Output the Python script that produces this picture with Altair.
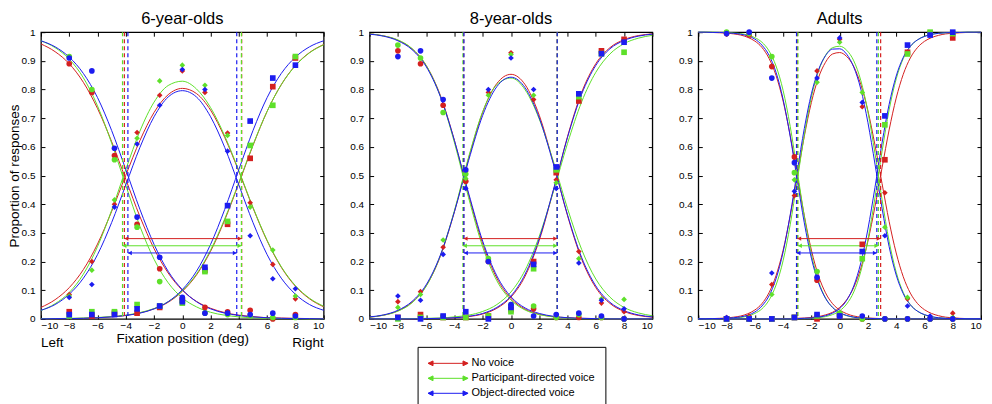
import pandas as pd
import altair as alt

FONT = "Liberation Sans"
PANELS = ["6-year-olds", "8-year-olds", "Adults"]
CONDS = ["No voice", "Participant-directed voice", "Object-directed voice"]
COLORS = ["#d42020", "#5ee02a", "#1c1cf0"]
RESP = ["L", "C", "R"]
SHAPES = ["circle", "diamond", "square"]
DATA_X = [-8, -6.4, -4.8, -3.2, -1.6, 0, 1.6, 3.2, 4.8, 6.4, 8]
XTICKS = list(range(-10, 11, 2))
YTICKS = [0, 0.1, 0.2, 0.3, 0.4, 0.5, 0.6, 0.7, 0.8, 0.9, 1]

# observed proportions: (panel, condition, response) -> values at DATA_X
OBS = {
    (0, 0, "L"): [0.89, 0.79, 0.57, 0.33, 0.175, 0.07, 0.04, 0.025, 0.03, 0.0, 0.015],
    (0, 0, "C"): [0.085, 0.20, 0.40, 0.65, 0.78, 0.865, 0.79, 0.648, 0.405, 0.19, 0.07],
    (0, 0, "R"): [0.025, 0.01, 0.02, 0.02, 0.04, 0.065, 0.17, 0.33, 0.56, 0.81, 0.91],
    (0, 1, "L"): [0.915, 0.80, 0.555, 0.32, 0.13, 0.06, 0.02, 0.015, 0.01, 0.005, 0.005],
    (0, 1, "C"): [0.08, 0.17, 0.415, 0.63, 0.83, 0.885, 0.815, 0.64, 0.39, 0.24, 0.08],
    (0, 1, "R"): [0.01, 0.025, 0.025, 0.05, 0.045, 0.055, 0.165, 0.34, 0.605, 0.745, 0.915],
    (0, 2, "L"): [0.91, 0.865, 0.595, 0.355, 0.215, 0.075, 0.02, 0.02, 0.015, 0.02, 0.01],
    (0, 2, "C"): [0.075, 0.12, 0.39, 0.61, 0.745, 0.87, 0.80, 0.585, 0.29, 0.14, 0.105],
    (0, 2, "R"): [0.015, 0.015, 0.015, 0.035, 0.045, 0.06, 0.18, 0.395, 0.69, 0.84, 0.885],
    (1, 0, "L"): [0.935, 0.89, 0.745, 0.48, 0.20, 0.04, 0.035, 0.005, 0.005, 0.005, 0.0],
    (1, 0, "C"): [0.06, 0.095, 0.25, 0.515, 0.79, 0.928, 0.765, 0.485, 0.235, 0.055, 0.025],
    (1, 0, "R"): [0.005, 0.015, 0.005, 0.005, 0.01, 0.032, 0.20, 0.51, 0.76, 0.935, 0.975],
    (1, 1, "L"): [0.955, 0.91, 0.72, 0.505, 0.21, 0.05, 0.045, 0.005, 0.015, 0.005, 0.0],
    (1, 1, "C"): [0.04, 0.085, 0.275, 0.49, 0.78, 0.922, 0.78, 0.475, 0.21, 0.07, 0.068],
    (1, 1, "R"): [0.0, 0.005, 0.005, 0.005, 0.01, 0.025, 0.175, 0.52, 0.775, 0.925, 0.93],
    (1, 2, "L"): [0.915, 0.935, 0.765, 0.52, 0.20, 0.05, 0.01, 0.015, 0.02, 0.01, 0.0],
    (1, 2, "C"): [0.08, 0.065, 0.225, 0.455, 0.80, 0.91, 0.80, 0.455, 0.195, 0.065, 0.035],
    (1, 2, "R"): [0.005, 0.0, 0.01, 0.025, 0.0, 0.04, 0.19, 0.53, 0.785, 0.925, 0.965],
    (2, 0, "L"): [0.995, 0.99, 0.88, 0.565, 0.135, 0.015, 0.0, 0.0, 0.0, 0.0, 0.0],
    (2, 0, "C"): [0.005, 0.01, 0.12, 0.43, 0.865, 0.975, 0.74, 0.44, 0.07, 0.005, 0.02],
    (2, 0, "R"): [0.0, 0.0, 0.0, 0.005, 0.0, 0.01, 0.26, 0.555, 0.93, 0.995, 0.98],
    (2, 1, "L"): [1.0, 0.995, 0.915, 0.51, 0.165, 0.02, 0.0, 0.0, 0.0, 0.0, 0.0],
    (2, 1, "C"): [0.0, 0.005, 0.085, 0.485, 0.825, 0.965, 0.79, 0.32, 0.075, 0.0, 0.005],
    (2, 1, "R"): [0.0, 0.0, 0.0, 0.005, 0.01, 0.015, 0.21, 0.677, 0.924, 1.0, 0.995],
    (2, 2, "L"): [0.995, 1.0, 0.84, 0.545, 0.145, 0.01, 0.01, 0.0, 0.0, 0.0, 0.0],
    (2, 2, "C"): [0.005, 0.0, 0.16, 0.445, 0.84, 0.98, 0.755, 0.29, 0.045, 0.01, 0.0],
    (2, 2, "R"): [0.0, 0.0, 0.0, 0.005, 0.015, 0.01, 0.235, 0.708, 0.955, 0.99, 1.0],
}

# fitted curves (per mille)
CURVE_X_CHILD = [-10, -9, -8, -7, -6, -5, -4, -3, -2, -1, 0, 1, 2, 3, 4, 5, 6, 7, 8, 9, 10]
CURVE_X_ADULT = [-10, -9.5, -9, -8.5, -8, -7.5, -7, -6.5, -6, -5.5, -5, -4.5, -4, -3.5, -3,
                 -2.5, -2, -1.5, -1, -0.5, 0, 0.5, 1, 1.5, 2, 2.5, 3, 3.5, 4, 4.5, 5, 5.5,
                 6, 6.5, 7, 7.5, 8, 8.5, 9, 9.5, 10]
CURVES = {
    (0, 0, "L"): [959, 932, 890, 825, 734, 618, 487, 357, 245, 160, 100, 61, 37, 22, 13, 8, 4, 3, 2, 1, 1],
    (0, 0, "C"): [40, 67, 109, 172, 261, 375, 501, 622, 720, 782, 804, 786, 728, 633, 514, 387, 272, 180, 114, 70, 42],
    (0, 0, "R"): [1, 1, 1, 2, 4, 7, 12, 21, 35, 58, 96, 153, 236, 345, 473, 605, 724, 817, 884, 929, 957],
    (0, 1, "L"): [970, 946, 906, 841, 743, 613, 466, 323, 208, 126, 73, 42, 23, 13, 7, 4, 2, 1, 1, 0, 0],
    (0, 1, "C"): [29, 53, 92, 156, 252, 379, 521, 655, 756, 814, 829, 802, 737, 638, 517, 389, 274, 182, 116, 72, 44],
    (0, 1, "R"): [1, 1, 2, 3, 5, 8, 13, 22, 36, 60, 98, 156, 240, 349, 476, 607, 724, 817, 883, 928, 956],
    (0, 2, "L"): [970, 949, 913, 856, 772, 657, 521, 382, 260, 166, 102, 60, 35, 20, 12, 7, 4, 2, 1, 1, 0],
    (0, 2, "C"): [30, 50, 86, 142, 224, 336, 467, 598, 705, 774, 796, 774, 705, 598, 467, 336, 224, 142, 86, 50, 30],
    (0, 2, "R"): [0, 1, 1, 2, 4, 7, 12, 20, 35, 60, 102, 166, 260, 382, 521, 657, 772, 856, 913, 949, 970],
    (1, 0, "L"): [994, 987, 972, 942, 884, 780, 622, 433, 262, 142, 71, 34, 16, 8, 4, 2, 1, 0, 0, 0, 0],
    (1, 0, "C"): [6, 13, 28, 58, 115, 218, 374, 559, 721, 821, 853, 817, 710, 544, 360, 208, 109, 54, 26, 12, 6],
    (1, 0, "R"): [0, 0, 0, 0, 1, 2, 4, 8, 17, 37, 76, 149, 274, 448, 636, 790, 890, 946, 974, 988, 994],
    (1, 1, "L"): [994, 987, 973, 943, 884, 777, 615, 423, 251, 133, 66, 31, 15, 7, 3, 1, 1, 0, 0, 0, 0],
    (1, 1, "C"): [6, 13, 27, 56, 114, 220, 378, 564, 723, 817, 840, 799, 697, 549, 385, 242, 139, 76, 40, 21, 11],
    (1, 1, "R"): [0, 0, 0, 1, 2, 3, 7, 13, 26, 50, 94, 170, 288, 444, 612, 757, 860, 924, 960, 979, 989],
    (1, 2, "L"): [993, 986, 970, 939, 880, 776, 622, 439, 271, 150, 77, 38, 19, 9, 4, 2, 1, 0, 0, 0, 0],
    (1, 2, "C"): [7, 14, 30, 61, 119, 222, 374, 552, 710, 810, 843, 806, 701, 541, 363, 214, 115, 58, 29, 14, 7],
    (1, 2, "R"): [0, 0, 0, 0, 1, 2, 4, 9, 19, 40, 80, 156, 280, 450, 633, 784, 884, 942, 971, 986, 993],
    (2, 0, "L"): [999, 999, 999, 998, 997, 994, 990, 982, 969, 947, 909, 849, 760, 640, 500, 360, 240,
                  151, 91, 53, 31, 18, 10, 6, 3, 2, 1, 1, 0, 0, 0, 0, 0, 0, 0, 0, 0, 0, 0, 0, 0],
    (2, 0, "C"): [1, 1, 1, 2, 3, 6, 10, 18, 31, 53, 91, 151, 239, 359, 498, 637, 755, 841, 895, 924,
                  929, 915, 880, 817, 726, 606, 472, 340, 230, 147, 90, 54, 32, 19, 11, 6, 4, 2, 1, 1, 0],
    (2, 0, "R"): [0, 0, 0, 0, 0, 0, 0, 0, 0, 0, 0, 0, 1, 1, 2, 3, 5, 8, 14, 23, 40, 67, 110, 177, 271,
                  392, 527, 659, 770, 853, 910, 946, 968, 981, 989, 994, 996, 998, 999, 999, 1000],
    (2, 1, "L"): [1000, 1000, 1000, 999, 999, 997, 995, 990, 981, 965, 935, 882, 797, 672, 516, 358,
                  225, 132, 73, 40, 21, 11, 6, 3, 2, 1, 0, 0, 0, 0, 0, 0, 0, 0, 0, 0, 0, 0, 0, 0, 0],
    (2, 1, "C"): [0, 0, 0, 1, 1, 3, 5, 10, 19, 35, 65, 118, 203, 328, 483, 641, 773, 864, 919, 946,
                  951, 937, 900, 831, 722, 577, 416, 271, 163, 92, 50, 27, 14, 7, 4, 2, 1, 1, 0, 0, 0],
    (2, 1, "R"): [0, 0, 0, 0, 0, 0, 0, 0, 0, 0, 0, 0, 0, 0, 1, 1, 2, 4, 8, 15, 28, 52, 94, 166, 276,
                  423, 584, 729, 837, 908, 950, 973, 986, 993, 996, 998, 999, 999, 1000, 1000, 1000],
    (2, 2, "L"): [1000, 1000, 999, 999, 998, 996, 993, 987, 976, 955, 920, 860, 766, 637, 484, 335,
                  212, 126, 72, 40, 22, 12, 6, 3, 2, 1, 1, 0, 0, 0, 0, 0, 0, 0, 0, 0, 0, 0, 0, 0, 0],
    (2, 2, "C"): [0, 0, 1, 1, 2, 4, 7, 13, 24, 45, 80, 140, 233, 362, 515, 664, 785, 868, 918, 941,
                  942, 923, 878, 801, 685, 540, 386, 252, 153, 88, 49, 27, 15, 8, 4, 2, 1, 1, 0, 0, 0],
    (2, 2, "R"): [0, 0, 0, 0, 0, 0, 0, 0, 0, 0, 0, 0, 0, 0, 1, 2, 3, 6, 11, 20, 36, 65, 115, 196, 313,
                  459, 614, 748, 847, 912, 951, 973, 985, 992, 996, 998, 999, 999, 1000, 1000, 1000],
}

# category boundaries (dashed lines) and arrow heights
TL = [[-4.1, -4.23, -3.85], [-3.35, -3.4, -3.33], [-3.0, -2.95, -3.05]]
TR = [[4.2, 4.18, 3.85], [3.27, 3.27, 3.27], [2.9, 2.74, 2.63]]
ARROW_Y = [0.28, 0.255, 0.23]

# legend symbol: a double-headed arrow, 40 px long, starting at the entry's left edge
LEG_PATH = "M-1,0L5.67,0M-1,0L-0.17,-0.4L-0.17,0.4ZM5.67,0L4.83,-0.4L4.83,0.4Z"


def panel(pi):
    first = pi == 0
    xs = alt.Scale(domain=[-10, 10], nice=False, zero=False)
    ys = alt.Scale(domain=[0, 1], nice=False, zero=False)
    cs = alt.Scale(domain=CONDS, range=COLORS)
    cx = CURVE_X_ADULT if pi == 2 else CURVE_X_CHILD

    crow, prow, drow, arow = [], [], [], []
    for ci, c in enumerate(CONDS):
        for r in RESP:
            for x, v in zip(cx, CURVES[(pi, ci, r)]):
                crow.append({"cond": c, "resp": r, "x": x, "p": v / 1000})
            for x, v in zip(DATA_X, OBS[(pi, ci, r)]):
                prow.append({"cond": c, "resp": r, "x": x, "p": v})
        drow.append({"cond": c, "t": TL[pi][ci]})
        drow.append({"cond": c, "t": TR[pi][ci]})
        arow.append({"cond": c, "t1": TL[pi][ci], "t2": TR[pi][ci], "ay": ARROW_Y[ci]})
    cdf, pdf, ddf, adf = map(pd.DataFrame, (crow, prow, drow, arow))

    xb = alt.Axis(orient="bottom", values=XTICKS, offset=-4, domain=False, tickSize=4,
                  tickColor="black", labelPadding=2, labelFontSize=10, labelFont=FONT,
                  labelColor="black", grid=False,
                  title="Fixation position (deg)" if first else None,
                  titleFont=FONT, titleFontSize=13.5, titleFontWeight="normal",
                  titleColor="black", titlePadding=1)
    yl = alt.Axis(orient="left", values=YTICKS, format=".1~f", offset=-4, domain=False,
                  tickSize=4, tickColor="black", labelPadding=6, labelFontSize=10,
                  labelFont=FONT, labelColor="black", grid=False,
                  title="Proportion of responses" if first else None,
                  titleFont=FONT, titleFontSize=13.5, titleFontWeight="normal",
                  titleColor="black", titlePadding=0)
    xt = alt.Axis(orient="top", values=XTICKS, offset=-4, domain=False, tickSize=4,
                  tickColor="black", labels=False, grid=False, title=None)
    yr = alt.Axis(orient="right", values=YTICKS, offset=-4, domain=False, tickSize=4,
                  tickColor="black", labels=False, grid=False, title=None)

    if pi == 1:
        leg = alt.Legend(orient="none", legendX=48, legendY=315, title=None,
                         symbolType=LEG_PATH, symbolSize=144, symbolStrokeWidth=1,
                         labelFont=FONT, labelFontSize=11, labelColor="black",
                         strokeColor="black", fillColor="white", padding=10,
                         rowPadding=3, labelOffset=31)
    else:
        leg = None

    curves = alt.Chart(cdf).mark_line(strokeWidth=1, interpolate="monotone").encode(
        x=alt.X("x:Q", scale=xs, axis=xb),
        y=alt.Y("p:Q", scale=ys, axis=yl),
        color=alt.Color("cond:N", scale=cs, legend=leg),
        detail="resp:N",
    )
    dashed = alt.Chart(ddf).mark_rule(strokeDash=[4, 3], strokeWidth=1.2).encode(
        x=alt.X("t:Q", scale=xs, axis=None),
        color=alt.Color("cond:N", scale=cs, legend=None),
    )
    arrows = alt.Chart(adf).mark_rule(strokeWidth=1).encode(
        x=alt.X("t1:Q", scale=xs, axis=xt), x2="t2:Q",
        y=alt.Y("ay:Q", scale=ys, axis=yr),
        color=alt.Color("cond:N", scale=cs, legend=None),
    )
    head_l = alt.Chart(adf).mark_point(shape="triangle-left", filled=True, size=20,
                                       opacity=1, xOffset=2).encode(
        x=alt.X("t1:Q", scale=xs, axis=None), y=alt.Y("ay:Q", scale=ys, axis=None),
        color=alt.Color("cond:N", scale=cs, legend=None),
    )
    head_r = alt.Chart(adf).mark_point(shape="triangle-right", filled=True, size=20,
                                       opacity=1, xOffset=-2).encode(
        x=alt.X("t2:Q", scale=xs, axis=None), y=alt.Y("ay:Q", scale=ys, axis=None),
        color=alt.Color("cond:N", scale=cs, legend=None),
    )
    points = alt.Chart(pdf).mark_point(filled=True, size=32, opacity=1).encode(
        x=alt.X("x:Q", scale=xs, axis=None),
        y=alt.Y("p:Q", scale=ys, axis=None),
        color=alt.Color("cond:N", scale=cs, legend=None),
        shape=alt.Shape("resp:N", scale=alt.Scale(domain=RESP, range=SHAPES), legend=None),
    )
    layers = [curves, dashed, arrows, head_l, head_r, points]
    if first:
        lr = pd.DataFrame({"lx": [-10, 10], "ly": [0, 0], "lab": ["Left", "Right"]})
        left = alt.Chart(lr.iloc[[0]]).mark_text(align="left", baseline="middle", dy=24,
                                                  fontSize=13.5, font=FONT, color="black").encode(
            x=alt.X("lx:Q", scale=xs, axis=None), y=alt.Y("ly:Q", scale=ys, axis=None),
            text="lab:N")
        right = alt.Chart(lr.iloc[[1]]).mark_text(align="right", baseline="middle", dy=24,
                                                   fontSize=13.5, font=FONT, color="black").encode(
            x=alt.X("lx:Q", scale=xs, axis=None), y=alt.Y("ly:Q", scale=ys, axis=None),
            text="lab:N")
        layers += [left, right]
    return alt.layer(*layers).resolve_axis(x="independent", y="independent").properties(
        width=283, height=287,
        title=alt.TitleParams(PANELS[pi], font=FONT, fontSize=16.5, fontWeight="normal",
                              color="black", offset=0),
    )


chart = alt.hconcat(panel(0), panel(1), panel(2), spacing=22).resolve_legend(
    color="independent"
).configure_view(stroke="black", strokeWidth=1.3).properties(
    padding={"left": -2, "top": 1, "right": 0, "bottom": 0}
)

chart.save("out.html", embed_options={"renderer": "svg", "actions": False})
